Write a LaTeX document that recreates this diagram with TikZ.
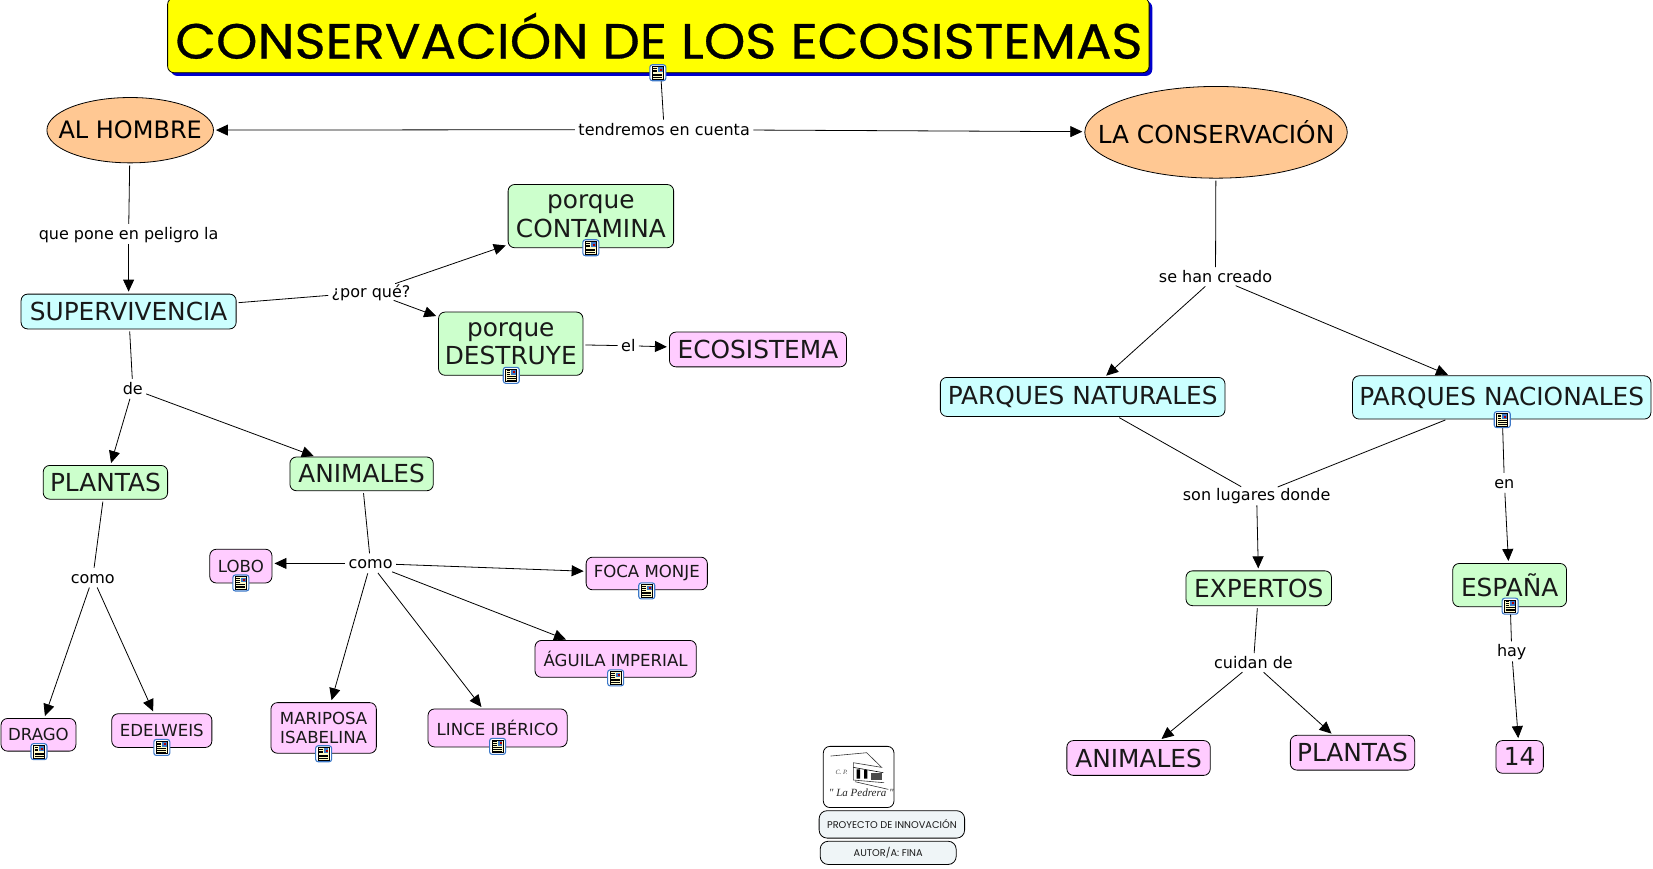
\documentclass[tikz,border=0pt]{standalone}
\usepackage{fontspec}
\setmainfont{DejaVu Sans}
\newfontfamily\comicf{Poppins}
\newfontfamily\comict[FakeBold=0.6]{Poppins}
\newfontfamily\serifit{Liberation Serif}
\usetikzlibrary{arrows.meta,shapes.geometric,shadows}
\newdimen\fsdim
\newcommand{\fs}[1]{\fsdim=#1pt \fsdim=1.2\fsdim \fontsize{#1}{\the\fsdim}\selectfont}
\tikzset{
  sized/.style 2 args={minimum width=#1*1.0542pt,minimum height=#2*1.0542pt},
  concept/.style={draw=black,line width=0.8pt,rounded corners=6.5pt,inner sep=0pt,outer sep=0pt,align=center,text=black!90},
  cgreen/.style={concept,fill=green2},
  ccyan/.style={concept,fill=cyan2},
  cpink/.style={concept,fill=pink2},
  cfoot/.style={concept,fill=foot2,font=\comicf\fontsize{9.8}{11}\selectfont,rounded corners=8pt},
  oval/.style={draw=black,line width=0.8pt,ellipse,fill=orange2,inner sep=0pt,outer sep=0pt},
  lab/.style={inner sep=1pt,outer sep=0pt,yshift=-1pt,text height=12pt,text depth=1pt,font=\fontsize{16}{19}\selectfont},
  conn/.style={draw=black,line width=0.8pt,shorten <=2.5pt,shorten >=2.5pt},
  arr/.style={conn,-{Triangle[length=12pt,width=11pt]}},
  pics/docicon/.style={code={
    \begin{scope}[x=1pt,y=-1pt]
    \draw[draw=blue3,line width=1.1pt,fill=white,rounded corners=2.5pt] (-8,-8) rectangle (8,8);
    \draw[black,line width=0.7pt,fill=cream] (-5.5,-6.3) rectangle (5.5,6.3);
    \fill[blue3] (0,-5.3) rectangle (4.8,-0.6);
    \fill[red!70!black] (2,-4) rectangle (4,-2);
    \draw[black,line width=0.8pt] (-4.5,-4.5) -- (-1,-4.5) (-4.5,-2.7) -- (-1,-2.7) (-4.5,-0.9) -- (-1,-0.9) (-4.5,1.3) -- (4.5,1.3) (-4.5,3) -- (4.5,3) (-4.5,4.7) -- (4.5,4.7);
    \end{scope}
  }}
}
\definecolor{green2}{HTML}{CCFFCC}
\definecolor{cyan2}{HTML}{CCFFFF}
\definecolor{pink2}{HTML}{FFCCFF}
\definecolor{orange2}{HTML}{FFC893}
\definecolor{foot2}{HTML}{EFF5F7}
\definecolor{blue3}{HTML}{3C78C8}
\definecolor{cream}{HTML}{FFFBC8}
\definecolor{shadowb}{HTML}{0000CC}
\definecolor{titley}{HTML}{FFFF00}
\begin{document}
\begin{tikzpicture}[x=1.0542pt,y=-1.0542pt]
\useasboundingbox (0,0) rectangle (1568,824.3);
% title
\node[concept,fill=titley,sized={931}{71},drop shadow={shadow xshift=3.2pt,shadow yshift=-3.2pt,fill=shadowb,opacity=1}] (title) at (624.5,33.5) {};
\node[inner sep=0pt,font=\comict\fontsize{48}{56}\selectfont,text=black] (titletext) at (625,34) {\scalebox{1.1}[1.03]{CONSERVACIÓN DE LOS ECOSISTEMAS}};
% ovals
\node[oval,sized={158}{62},font=\fs{24}] (hombre) at (123.5,123.5) {\makebox[0pt]{AL HOMBRE}};
\node[oval,sized={249}{87},font=\fs{24.8}] (conserv) at (1153.5,125.5) {\makebox[0pt]{LA CONSERVACIÓN}};
% concepts
\node[cgreen,sized={157}{60},font=\fs{24.8}] (contamina) at (560.5,205) {porque\\[-1pt]CONTAMINA};
\node[ccyan,sized={204}{33},font=\fs{24.8}] (superv) at (122,295.5) {SUPERVIVENCIA};
\node[cgreen,sized={137}{60},font=\fs{24.8}] (destruye) at (484.5,326) {porque\\[-1pt]DESTRUYE};
\node[cpink,sized={168}{33},font=\fs{24.8}] (ecosistema) at (719,331.5) {ECOSISTEMA};
\node[cgreen,sized={118}{32},font=\fs{24.8}] (plantasg) at (100,457.5) {PLANTAS};
\node[cgreen,sized={136}{32},font=\fs{24.8}] (animalesg) at (343,449.5) {ANIMALES};
\node[cpink,sized={59}{32},font=\fs{16.6}] (lobo) at (228.5,537) {LOBO};
\node[cpink,sized={115}{31},font=\fs{16.6}] (foca) at (613.5,544) {FOCA MONJE};
\node[cpink,sized={153}{35},font=\fs{16.6}] (aguila) at (584,625) {ÁGUILA IMPERIAL};
\node[cpink,sized={132}{36},font=\fs{16.6}] (lince) at (472,690.5) {LINCE IBÉRICO};
\node[cpink,sized={100}{48},font=\fs{16.6}] (mariposa) at (307,690.5) {MARIPOSA\\[-1pt]ISABELINA};
\node[cpink,sized={71}{31},font=\fs{16.6}] (drago) at (36.5,697) {DRAGO};
\node[cpink,sized={95}{32},font=\fs{16.6}] (edelweis) at (153.5,693) {EDELWEIS};
\node[ccyan,sized={270}{37},font=\fs{24.8}] (pnat) at (1027,376.5) {PARQUES NATURALES};
\node[ccyan,sized={283}{41},font=\fs{24.8}] (pnac) at (1424.5,377) {\raisebox{2pt}{PARQUES NACIONALES}};
\node[cgreen,sized={138}{33},font=\fs{24.8}] (expertos) at (1194,558) {EXPERTOS};
\node[cgreen,sized={108}{41},font=\fs{24.8}] (espana) at (1432,555) {ESPAÑA};
\node[cpink,sized={136}{33},font=\fs{24.8}] (animalesp) at (1080,719) {ANIMALES};
\node[cpink,sized={118}{33},font=\fs{24.8}] (plantasp) at (1283,714) {PLANTAS};
\node[cpink,sized={45}{31},font=\fs{24.8}] (catorce) at (1441.5,718) {14};
% labels
\node[lab] (ltend) at (630,122) {tendremos en cuenta};
\node[lab] (lpone) at (122,221) {que pone en peligro la};
\node[lab] (lpor) at (352,276) {¿por qué?};
\node[lab] (lel) at (596,327) {el};
\node[lab] (lde) at (126,368) {de};
\node[lab] (lcomo1) at (88,547) {como};
\node[lab] (lcomo2) at (351.5,533.5) {como};
\node[lab] (lhan) at (1153,262) {se han creado};
\node[lab] (lson) at (1192,469) {son lugares donde};
\node[lab] (len) at (1427,457) {en};
\node[lab] (lcuidan) at (1189,628) {cuidan de};
\node[lab] (lhay) at (1434,617) {hay};
% connectors
\draw[conn] (title) -- (ltend);
\draw[arr] (ltend) -- (hombre);
\draw[arr] (ltend) -- (conserv);
\draw[conn] (hombre) -- (lpone);
\draw[arr] (lpone) -- (superv);
\draw[conn] (superv) -- (lpor);
\draw[arr] (lpor) -- (contamina);
\draw[arr] (lpor) -- (destruye);
\draw[conn] (destruye) -- (lel);
\draw[arr] (lel) -- (ecosistema);
\draw[conn] (superv) -- (lde);
\draw[arr] (lde) -- (plantasg);
\draw[arr] (lde) -- (animalesg);
\draw[conn] (plantasg) -- (lcomo1);
\draw[arr] (lcomo1) -- (drago);
\draw[arr] (lcomo1) -- (edelweis);
\draw[conn] (animalesg) -- (lcomo2);
\draw[arr] (lcomo2.west) -- (lcomo2.west -| lobo.east);
\draw[arr] (lcomo2) -- (foca);
\draw[arr] (lcomo2) -- (aguila);
\draw[arr] (lcomo2) -- (lince);
\draw[arr] (lcomo2) -- (mariposa);
\draw[conn] (conserv) -- (lhan);
\draw[arr] (lhan) -- (pnat);
\draw[arr] (lhan) -- (pnac);
\draw[conn] (pnat) -- (lson);
\draw[conn] (pnac) -- (lson);
\draw[arr] (lson) -- (expertos);
\draw[conn] (pnac) -- (len);
\draw[arr] (len) -- (espana);
\draw[conn] (expertos) -- (lcuidan);
\draw[arr] (lcuidan) -- (animalesp);
\draw[arr] (lcuidan) -- (plantasp);
\draw[conn] (espana) -- (lhay);
\draw[arr] (lhay) -- (catorce);
% icons
\foreach \p in {(624,69),(560.5,235),(485,356),(228.5,553),(613.5,560.5),(584,643),(472,708),(307,715),(37,713),(153.5,709),(1425,398),(1432.5,575)}
  \pic at \p {docicon};
% footer
\node[concept,fill=white,sized={67}{58}] (logo) at (814.5,737) {};
\node[cfoot,sized={138}{26}] (proyecto) at (846,782) {PROYECTO DE INNOVACIÓN};
\node[cfoot,sized={129}{22}] (autor) at (842.5,809) {AUTOR/A: FINA};
\begin{scope}[shift={(739.9,692.5)},x=0.3333pt,y=-0.3333pt]
  \draw[black!80,line width=0.6pt] (152,78) -- (260,68) -- (305,112) -- (220,98) (220,98) -- (220,150) -- (312,158) (225,155) -- (325,178);
  \draw[black,line width=0.6pt] (220,112) -- (310,128);
  \fill[black] (230,118) rectangle (240,146) (252,120) rectangle (262,146);
  \fill[black!70] (272,128) rectangle (306,150);
  \node[inner sep=0pt,font=\serifit\itshape\fontsize{6.5}{7}\selectfont,text=black!70] (cp) at (185,128) {C. P.};
  \node[inner sep=0pt,font=\serifit\itshape\fontsize{11}{12}\selectfont,text=black!85] (pedrera) at (244,187) {" La Pedrera "};
\end{scope}
\end{tikzpicture}
\end{document}
